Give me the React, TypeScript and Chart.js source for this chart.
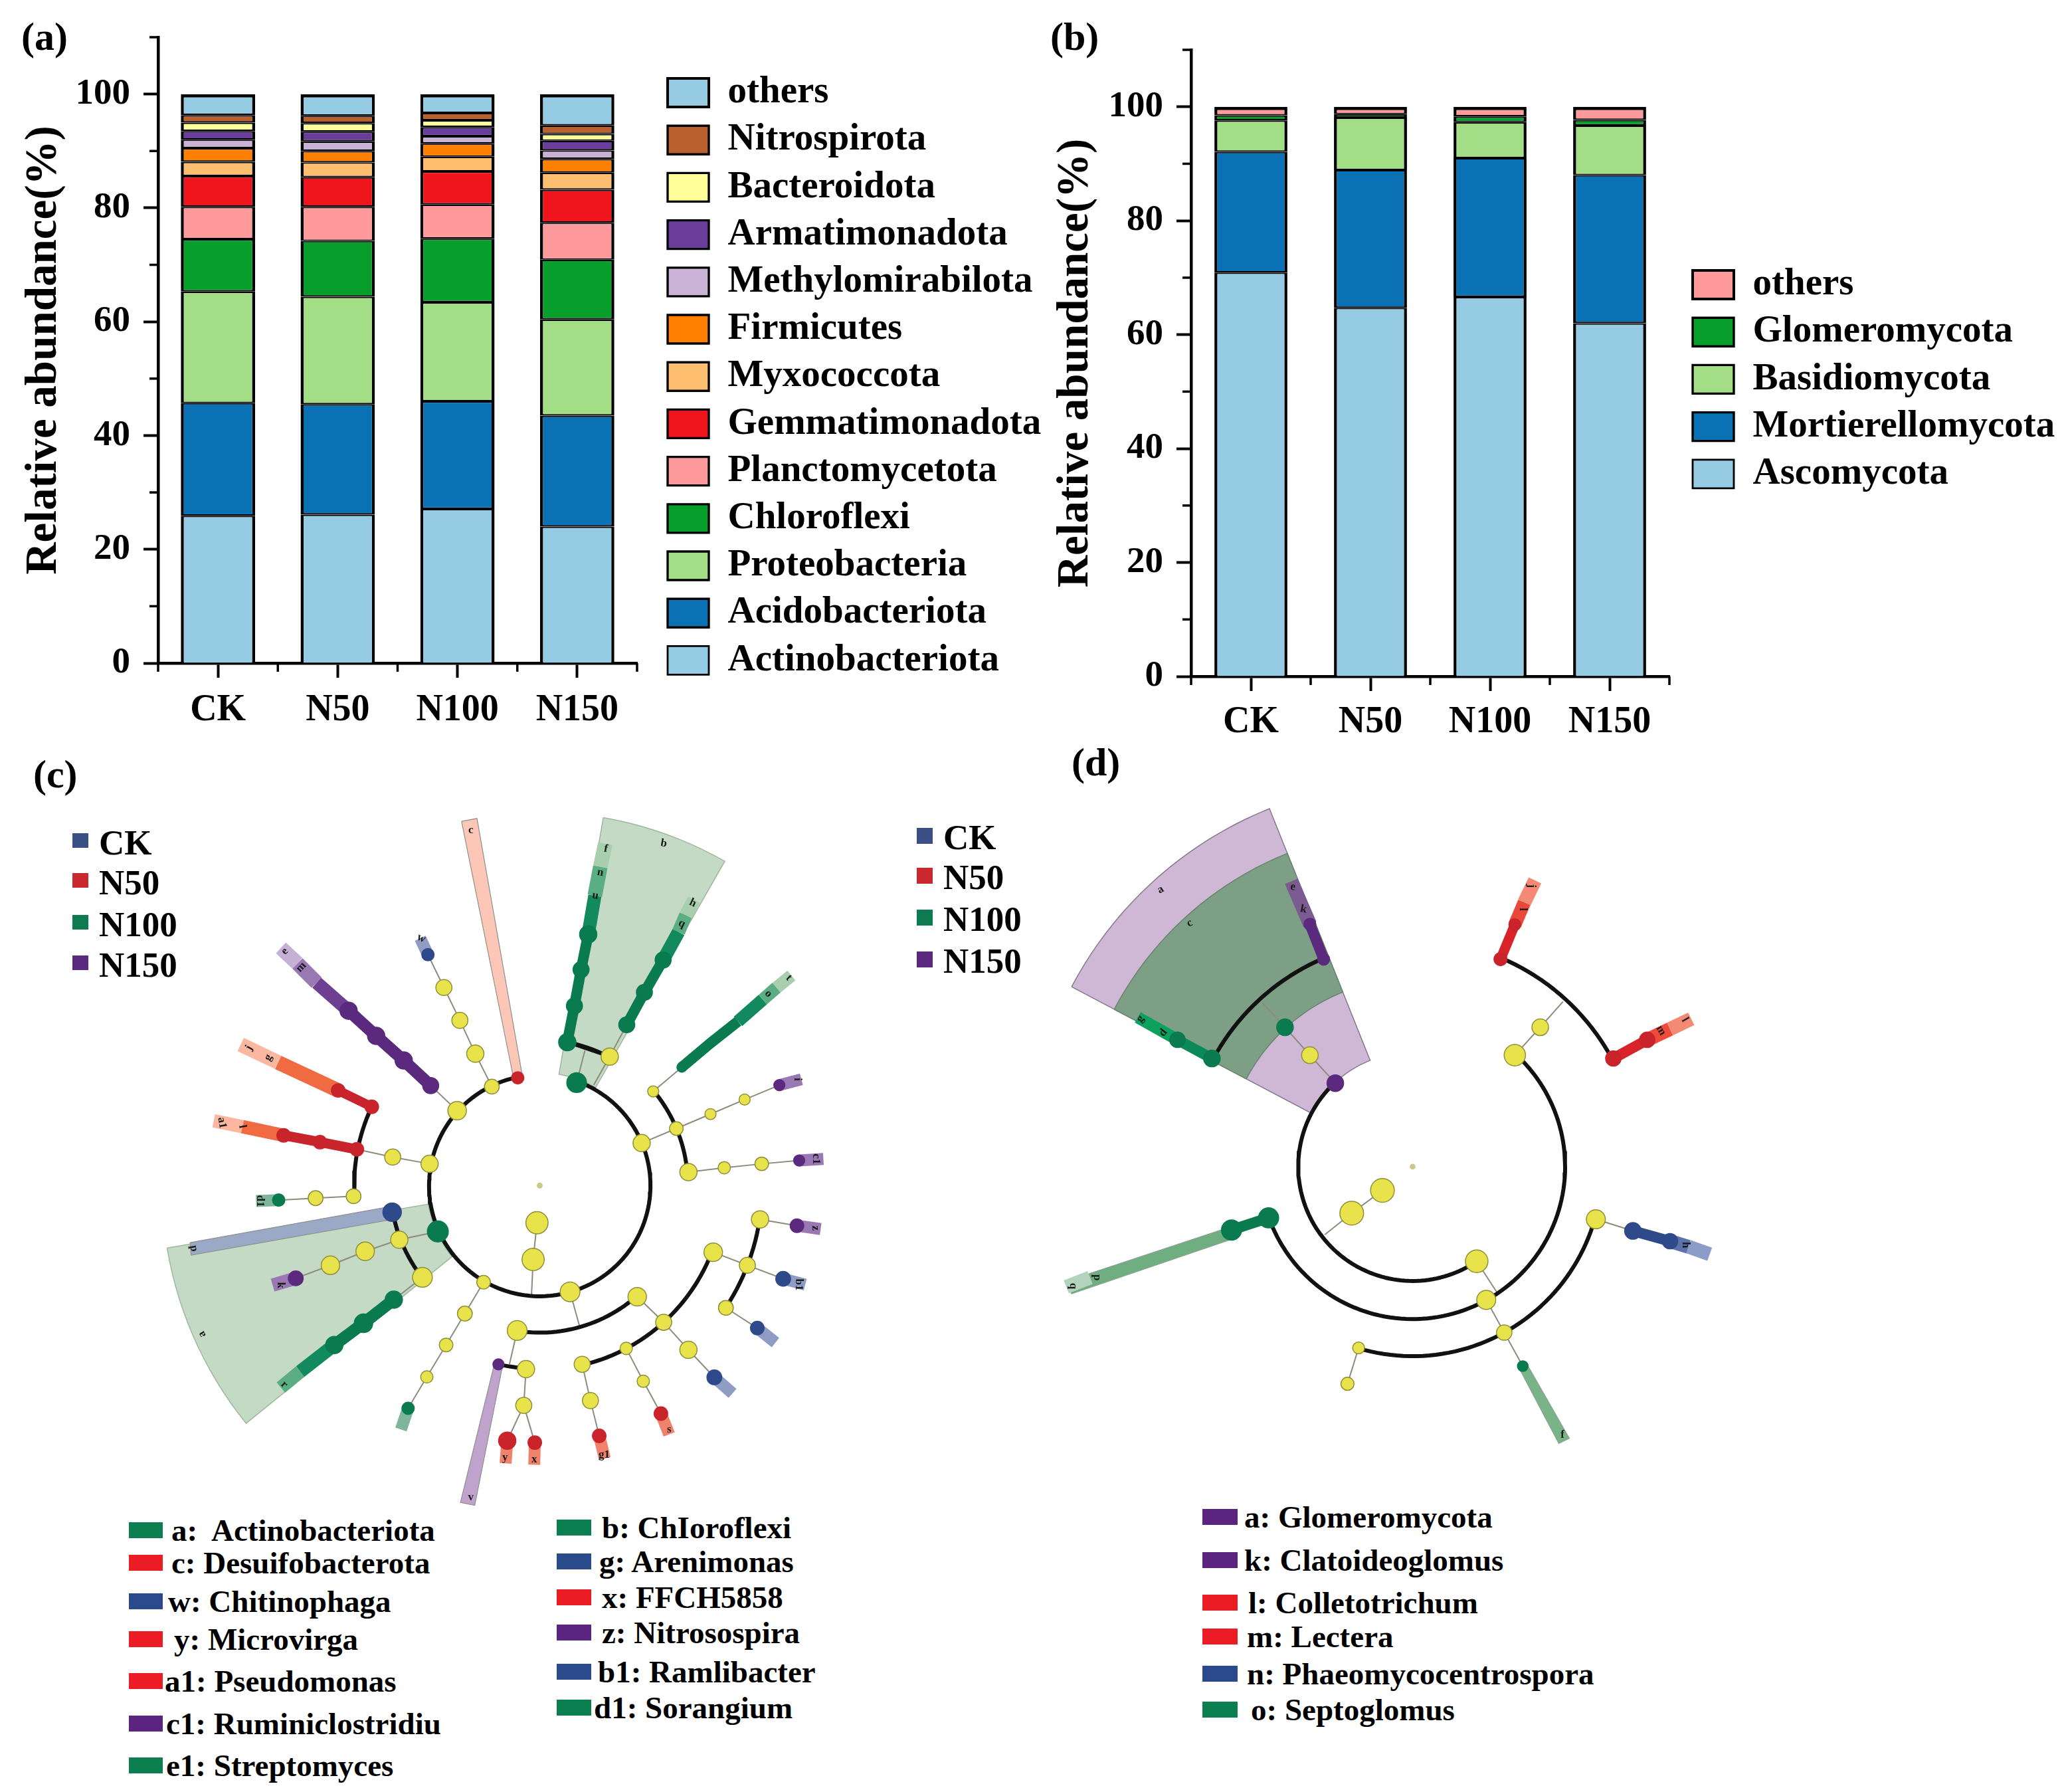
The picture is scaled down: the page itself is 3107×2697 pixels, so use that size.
import React, { useEffect, useRef } from "react";
import { Chart, registerables } from "chart.js";

Chart.register(...registerables);

const SERIF = "'Liberation Serif', 'Times New Roman', serif";

// ---------- panel (a) / (b) data ----------
const groups = ["CK", "N50", "N100", "N150"];
const yMinorTicks = [10, 30, 50, 70, 90, 110];
const xMinorTicks = [-0.5, 0.5, 1.5, 2.5, 3.5];

const actinobacteriota = [25.9, 26.1, 27.1, 24.0];
const acidobacteriota = [19.8, 19.4, 18.9, 19.5];
const proteobacteria = [19.6, 18.9, 17.4, 16.9];
const chloroflexi = [9.2, 9.8, 11.2, 10.5];
const planctomycetota = [5.7, 6.0, 6.0, 6.5];
const gemmatimonadota = [5.4, 5.2, 5.8, 5.8];
const myxococcota = [2.5, 2.6, 2.6, 3.0];
const firmicutes = [2.4, 2.0, 2.3, 2.4];
const methylomirabilota = [1.5, 1.7, 1.3, 1.5];
const armatimonadota = [1.5, 1.7, 1.6, 1.7];
const bacteroidota = [1.5, 1.5, 1.2, 1.2];
const nitrospirota = [1.3, 1.3, 1.3, 1.5];
const othersA = [3.7, 3.8, 3.3, 5.5];

const ascomycota = [70.9, 64.7, 66.6, 62.0];
const mortierellomycota = [21.2, 24.2, 24.4, 26.0];
const basidiomycota = [5.5, 9.2, 6.3, 8.7];
const glomeromycota = [0.9, 0.6, 1.0, 1.0];
const othersB = [1.5, 1.3, 1.7, 2.3];

const seriesA: [string, number[], string][] = [
  ["Actinobacteriota", actinobacteriota, "#95CCE4"],
  ["Acidobacteriota", acidobacteriota, "#0A72B4"],
  ["Proteobacteria", proteobacteria, "#A3DD85"],
  ["Chloroflexi", chloroflexi, "#089E2C"],
  ["Planctomycetota", planctomycetota, "#FF9A9C"],
  ["Gemmatimonadota", gemmatimonadota, "#F0141C"],
  ["Myxococcota", myxococcota, "#FDBF6F"],
  ["Firmicutes", firmicutes, "#FF7F00"],
  ["Methylomirabilota", methylomirabilota, "#CAB2D6"],
  ["Armatimonadota", armatimonadota, "#6A3D9A"],
  ["Bacteroidota", bacteroidota, "#FFFF99"],
  ["Nitrospirota", nitrospirota, "#B9602E"],
  ["others", othersA, "#95CCE4"],
];
const seriesB: [string, number[], string][] = [
  ["Ascomycota", ascomycota, "#95CCE4"],
  ["Mortierellomycota", mortierellomycota, "#0A72B4"],
  ["Basidiomycota", basidiomycota, "#A3DD85"],
  ["Glomeromycota", glomeromycota, "#089E2C"],
  ["others", othersB, "#FF9A9C"],
];

// ---------- cladogram colours ----------
const YEL = "#E9E34B";
const GRN = "#0A7A4F";
const RED = "#C9242B";
const PUR = "#5B2A7E";
const BLU = "#2F4A8A";
const GRN2 = "#12895E";
const GRN3 = "#5BAE83";
const GRN4 = "#A7CFAE";
const PUR2 = "#6E3F91";
const PUR3 = "#9A78B3";
const PUR4 = "#C6B0D6";
const ORG = "#F06A42";
const ORG2 = "#FBB79F";
const BLU2 = "#8F9DC4";
const GLINE = "#8C8C7C";

type Pt = [number, number];
type Node = [number, number, number];
type Stroke = [Pt[], string, number];

// ---------- cladogram (c) ----------
const nodesYellowC: Node[] = [
  [975, 977, 18], [968, 1053, 18], [1035, 1120, 16], [939, 1200, 16], [878, 1100, 11], [844, 1165, 12],
  [810, 1230, 11], [775, 1296, 10], [955, 1280, 14], [951, 1355, 13], [1057, 1270, 13], [1072, 1345, 13],
  [1157, 1130, 15], [1205, 1183, 13], [1250, 1240, 14], [1137, 1237, 10], [1168, 1305, 10], [1295, 1038, 15],
  [1357, 1065, 13], [1318, 1153, 12], [1380, 970, 14], [1250, 872, 14], [1315, 863, 10], [1383, 855, 11],
  [1165, 812, 14], [1228, 782, 11], [1290, 752, 9], [1352, 722, 9], [1186, 705, 9], [1107, 633, 14],
  [893, 695, 12], [863, 627, 14], [835, 558, 13], [806, 490, 13], [830, 745, 15], [780, 855, 14],
  [713, 841, 13], [642, 922, 12], [573, 926, 12], [725, 1012, 14], [663, 1036, 15], [600, 1065, 15], [767, 1090, 16],
];
const nodesGreenC: Node[] = [
  [1047, 687, 16], [1030, 603, 14], [1043, 528, 13], [1055, 453, 13], [1068, 380, 14], [1138, 567, 13],
  [1170, 500, 13], [1204, 433, 13], [1238, 655, 8], [795, 995, 17], [715, 1136, 14], [660, 1185, 15],
  [607, 1230, 14], [506, 930, 10], [741, 1361, 10],
];
const nodesRedC: Node[] = [
  [940, 677, 10], [675, 737, 11], [614, 703, 11], [648, 825, 11], [581, 810, 11], [515, 796, 11],
  [921, 1428, 14], [971, 1432, 11], [1088, 1418, 11], [1200, 1372, 11],
];
const nodesPurpleC: Node[] = [
  [782, 693, 13], [733, 641, 14], [683, 590, 14], [633, 538, 14], [537, 1092, 12], [905, 1270, 9],
  [1415, 692, 9], [1451, 848, 9], [1447, 983, 11],
];
const nodesBlueC: Node[] = [[777, 422, 10], [712, 955, 15], [1422, 1093, 12], [1375, 1195, 11], [1297, 1297, 12]];
const nodesRootC: Node[] = [[980, 900, 4]];

// sectors: r0, r1, a0, a1 (degrees)
const sectorsC: [number, number, number, number][] = [
  [205, 678, -80.2, -60.3],
  [205, 686, 170.5, 141],
];
// arcs: radius, from, to (degrees)
const arcsC: [number, number, number][] = [
  [201, -70, 258.5], [267, 98.9, 48.8], [335, 76.7, 21], [404, 33.3, 8.7], [333, 102.9, 94.3],
  [269, -39.7, -5.3], [265, -79.1, -61.5], [337, 205.1, 176.8], [271, 169.8, 141.9],
];
const branchesC: Pt[][] = [
  [[965, 1128], [968, 1053], [975, 977]],
  [[878, 1100], [844, 1165], [810, 1230], [775, 1296], [741, 1361]],
  [[1035, 1120], [1052, 1190]],
  [[939, 1200], [925, 1270]],
  [[955, 1280], [951, 1355], [921, 1428]],
  [[951, 1355], [971, 1432]],
  [[1157, 1130], [1205, 1183], [1250, 1240], [1297, 1297]],
  [[1137, 1237], [1168, 1305], [1200, 1372]],
  [[1057, 1270], [1072, 1345], [1088, 1418]],
  [[1295, 1038], [1357, 1065], [1422, 1093]],
  [[1380, 970], [1447, 983]],
  [[1318, 1153], [1375, 1195]],
  [[1250, 872], [1315, 863], [1383, 855], [1451, 848]],
  [[1165, 812], [1228, 782], [1290, 752], [1352, 722], [1415, 692]],
  [[1186, 705], [1238, 655]],
  [[1047, 687], [1062, 620]],
  [[1078, 692], [1107, 633], [1138, 567]],
  [[893, 695], [863, 627], [835, 558], [806, 490], [777, 422]],
  [[830, 745], [782, 693]],
  [[780, 855], [713, 841], [648, 825]],
  [[642, 922], [573, 926], [506, 930]],
  [[795, 995], [725, 1012], [663, 1036], [600, 1065], [537, 1092]],
  [[767, 1090], [715, 1136]],
];
const polysC: [Pt[], string][] = [
  [[[838, 146], [866, 140], [948, 670], [932, 675]], "#FCC7B6"],
  [[[345, 1018], [347, 1044], [712, 970], [700, 945]], "#9AA9C5"],
  [[[897, 1272], [912, 1276], [862, 1562], [836, 1556]], "#BFA3CC"],
];
const strokesC: Stroke[] = [
  [[[614, 703], [505, 645]], ORG, 22],
  [[[505, 645], [437, 608]], ORG2, 22],
  [[[515, 796], [440, 778]], ORG, 20],
  [[[440, 778], [388, 766]], ORG2, 20],
  [[[1068, 380], [1080, 300]], GRN2, 20],
  [[[1080, 300], [1090, 240]], GRN3, 22],
  [[[1090, 240], [1099, 192]], GRN4, 22],
  [[[1204, 433], [1232, 375]], GRN2, 20],
  [[[1232, 375], [1245, 340]], GRN3, 20],
  [[[1245, 340], [1260, 308]], GRN4, 20],
  [[[1340, 560], [1385, 515]], GRN2, 19],
  [[[1385, 515], [1410, 490]], GRN3, 19],
  [[[1410, 490], [1437, 465]], GRN4, 19],
  [[[633, 538], [575, 480]], PUR2, 20],
  [[[575, 480], [540, 440]], PUR3, 22],
  [[[540, 440], [510, 408]], PUR4, 22],
  [[[607, 1230], [545, 1285]], GRN2, 20],
  [[[545, 1285], [510, 1318]], GRN3, 20],
  [[[777, 422], [763, 388]], BLU2, 18],
  [[[1415, 692], [1455, 680]], PUR3, 18],
  [[[1451, 848], [1495, 845]], PUR3, 18],
  [[[1447, 983], [1490, 990]], PUR3, 18],
  [[[537, 1092], [495, 1106]], PUR3, 20],
  [[[1422, 1093], [1462, 1105]], BLU2, 18],
  [[[1375, 1195], [1408, 1225]], BLU2, 18],
  [[[1297, 1297], [1330, 1330]], BLU2, 18],
  [[[921, 1428], [918, 1475]], "#F0826C", 18],
  [[[971, 1432], [970, 1478]], "#F0826C", 18],
  [[[1088, 1418], [1098, 1465]], "#F0826C", 18],
  [[[1200, 1372], [1215, 1415]], "#F0826C", 18],
  [[[506, 930], [465, 932]], "#7FB59B", 18],
  [[[741, 1361], [728, 1405]], "#7FB59B", 18],
];
const thickC: Stroke[] = [
  [[[675, 737], [614, 703]], RED, 14],
  [[[648, 825], [581, 810], [515, 796]], RED, 15],
  [[[1030, 603], [1043, 528], [1055, 453], [1068, 380]], GRN, 16],
  [[[1138, 567], [1170, 500], [1204, 433]], GRN, 16],
  [[[1238, 655], [1290, 605], [1340, 560]], GRN, 16],
  [[[782, 693], [733, 641], [683, 590], [633, 538]], PUR, 18],
  [[[715, 1136], [660, 1185], [607, 1230]], GRN, 18],
  [[[1030, 603], [1107, 633]], "#111", 5],
  [[[712, 955], [725, 1012]], "#111", 5],
];
const tinyC: [string, number, number, number][] = [
  ["c", 855, 165, 0], ["b", 1205, 192, 10], ["a", 367, 1208, -120], ["f", 1100, 203, 10], ["n", 1090, 252, 10],
  ["u", 1081, 300, 10], ["h", 1258, 315, 25], ["q", 1238, 358, 25], ["t", 1432, 470, 45], ["o", 1395, 503, 45],
  ["e", 517, 415, -45], ["m", 547, 448, -45], ["j", 452, 615, -60], ["g", 487, 635, -60], ["a1", 403, 770, 80],
  ["l", 440, 778, 80], ["p", 352, 1030, 80], ["w", 765, 388, 25], ["d1", 472, 932, 90], ["v", 855, 1545, 0],
  ["y", 917, 1463, 0], ["x", 970, 1467, 0], ["g1", 1097, 1458, 0], ["s", 1215, 1405, 0], ["b1", 1450, 1105, 90],
  ["z", 1480, 988, 90], ["c1", 1482, 845, 90], ["i", 1448, 680, 90], ["k", 510, 1106, 90], ["r", 516, 1312, 45],
];

// ---------- cladogram (d) ----------
const nodesYellowD: Node[] = [
  [917, 943, 20], [859, 992, 20], [1095, 1095, 19], [1113, 1178, 16], [1147, 1248, 13], [872, 1281, 10],
  [851, 1358, 11], [780, 653, 14], [1167, 653, 18], [1215, 593, 14], [1320, 1005, 16],
];
const nodesGreenD: Node[] = [
  [733, 593, 14], [595, 660, 14], [530, 620, 13], [702, 1002, 17], [632, 1028, 17], [1182, 1320, 9],
];
const nodesPurpleD: Node[] = [[828, 713, 14], [806, 447, 10], [780, 372, 10]];
const nodesRedD: Node[] = [[1140, 447, 11], [1167, 373, 10], [1353, 660, 13], [1417, 620, 13]];
const nodesBlueD: Node[] = [[1390, 1030, 14], [1460, 1052, 13]];
const nodesRootD: Node[] = [[974, 892, 4]];

const sectorsOuterD: [number, number, number, number][] = [[216, 728, 207.8, 248.2]];
const sectorsInnerD: [number, number, number, number][] = [[355, 637, 207.8, 248.2]];
const arcsD: [number, number, number][] = [
  [216, 227.2, 56], [288, -47.4, 160.4], [358, 16, 106.6], [428, 208.3, 246.8], [428, -67, -28.3],
];
const branchesD: Pt[][] = [
  [[690, 540], [733, 593], [780, 653], [828, 713]],
  [[1095, 1095], [1135, 1165]],
  [[1113, 1178], [1147, 1248], [1182, 1320]],
  [[1167, 653], [1215, 593], [1258, 538]],
  [[808, 1038], [859, 992], [917, 943]],
  [[872, 1281], [851, 1358]],
  [[1320, 1005], [1390, 1030]],
];
const polysD: [Pt[], string][] = [
  [[[620, 1025], [640, 1045], [330, 1165], [320, 1138]], "#6FAE80"],
  [[[1174, 1322], [1190, 1316], [1270, 1475], [1250, 1486]], "#79B488"],
];
const strokesD: Stroke[] = [
  [[[530, 620], [455, 572]], "#0BA15F", 18],
  [[[780, 372], [745, 280]], "#7B5B92", 21],
  [[[1167, 373], [1185, 325]], "#E9483A", 20],
  [[[1185, 325], [1205, 278]], "#F58A74", 21],
  [[[1417, 620], [1460, 597]], "#EF4A3A", 21],
  [[[1460, 597], [1500, 575]], "#F58A74", 21],
  [[[1460, 1052], [1495, 1064]], "#5D72AB", 21],
  [[[1495, 1064], [1535, 1080]], "#8C9CC8", 21],
  [[[365, 1130], [320, 1150]], "#B4D3BC", 21],
];
const thickD: Stroke[] = [
  [[[595, 660], [530, 620]], "#0A8A58", 16],
  [[[806, 447], [780, 372]], PUR, 16],
  [[[1140, 447], [1167, 373]], "#D8232A", 15],
  [[[1353, 660], [1417, 620]], "#D8232A", 16],
  [[[1390, 1030], [1460, 1052]], BLU, 16],
  [[[702, 1002], [632, 1028]], GRN, 16],
];
const tinyD: [string, number, number, number][] = [
  ["a", 498, 298, -30], ["c", 553, 370, -30], ["e", 748, 292, 10], ["k", 768, 340, 10], ["g", 460, 575, -50],
  ["d", 503, 605, -50], ["j", 1198, 290, 90], ["l", 1182, 340, 90], ["l", 1488, 577, 60], ["m", 1443, 600, 60],
  ["h", 1490, 1060, 90], ["p", 378, 1130, 90], ["q", 333, 1148, 90], ["f", 1257, 1467, 0],
];

// ---------- legends as text ----------
const treatments = ["CK", "N50", "N100", "N150"];
const treatmentColors = ["#3A4F86", "#C8282E", "#0D7A50", "#5B2A7E"];
const legendCLeft: [string, string][] = [
  ["a:  Actinobacteriota", "#0B7F50"], ["c: Desuifobacterota", "#EC1C24"], ["w: Chitinophaga", "#2B4A8B"],
  ["y: Microvirga", "#EC1C24"], ["a1: Pseudomonas", "#EC1C24"], ["c1: Ruminiclostridiu", "#5B2480"],
  ["e1: Streptomyces", "#0B7F50"],
];
const legendCRight: [string, string][] = [
  ["b: ChIoroflexi", "#0B7F50"], ["g: Arenimonas", "#2B4A8B"], ["x: FFCH5858", "#EC1C24"],
  ["z: Nitrosospira", "#5B2480"], ["b1: Ramlibacter", "#2B4A8B"], ["d1: Sorangium", "#0B7F50"],
];
const legendD: [string, string][] = [
  ["a: Glomeromycota", "#5B2480"], ["k: Clatoideoglomus", "#5B2480"], ["l: Colletotrichum", "#EC1C24"],
  ["m: Lectera", "#EC1C24"], ["n: Phaeomycocentrospora", "#2B4A8B"], ["o: Septoglomus", "#0B7F50"],
];

// layout of text blocks (page pixels)
const rowsCLeft = [2303, 2352, 2410, 2467, 2530, 2594, 2657];
const textXCLeft = [258, 258, 253, 262, 248, 250, 250];
const rowsCRight = [2299, 2350, 2404, 2457, 2516, 2570];
const textXCRight = [906, 902, 906, 906, 900, 894];
const rowsD = [2283, 2348, 2412, 2463, 2519, 2573];
const textXD = [1873, 1873, 1879, 1877, 1877, 1883];

// ---------- helpers ----------
function arcPts(cx: number, cy: number, k: number, r: number, a0: number, a1: number): Pt[] {
  const n = Math.max(2, Math.ceil(Math.abs(a1 - a0) / 2));
  const out: Pt[] = [];
  for (let i = 0; i <= n; i++) {
    const a = ((a0 + ((a1 - a0) * i) / n) * Math.PI) / 180;
    out.push([cx + r * Math.cos(a), cy + r * k * Math.sin(a)]);
  }
  return out;
}
function sectorPts(cx: number, cy: number, k: number, s: [number, number, number, number]): Pt[] {
  const outer = arcPts(cx, cy, k, s[1], s[2], s[3]);
  const inner = arcPts(cx, cy, k, s[0], s[3], s[2]);
  const all = [...outer, ...inner];
  all.push(all[0]);
  return all;
}
const toXY = (p: Pt[]) => p.map(([x, y]) => ({ x, y }));

function lineDs(pts: Pt[], color: string, width: number) {
  return {
    data: toXY(pts), showLine: true, borderColor: color, borderWidth: width, pointRadius: 0,
    fill: false, tension: 0, borderCapStyle: "butt", borderJoinStyle: "round",
  };
}
function shapeDs(pts: Pt[], color: string, edge: string, width = 1.5) {
  return {
    data: toXY(pts), showLine: true, borderColor: edge, borderWidth: width, pointRadius: 0,
    fill: "shape", backgroundColor: color, tension: 0,
  };
}
function nodesDs(nodes: Node[], color: string, hs: number) {
  return {
    data: nodes.map(([x, y]) => ({ x, y })), showLine: false,
    pointRadius: nodes.map((n) => (n[2] * 1.12) / hs), pointBackgroundColor: color,
    pointBorderColor: color === YEL ? "#8F8F3A" : color, pointBorderWidth: 1.5,
  };
}

const tinyLabelPlugin = {
  id: "tinyLabels",
  afterDatasetsDraw(chart: any, _a: any, opts: any) {
    const { ctx, scales } = chart;
    ctx.save();
    ctx.fillStyle = "#1a1a1a";
    ctx.font = `bold 17px ${SERIF}`;
    ctx.textAlign = "center";
    ctx.textBaseline = "middle";
    for (const [t, x, y, rot] of opts.items || []) {
      ctx.save();
      ctx.translate(scales.x.getPixelForValue(x), scales.y.getPixelForValue(y));
      ctx.rotate((rot * Math.PI) / 180);
      ctx.fillText(t, 0, 0);
      ctx.restore();
    }
    ctx.restore();
  },
};

const minorTickPlugin = {
  id: "minorTicks",
  afterDraw(chart: any) {
    const { ctx, scales } = chart;
    ctx.save();
    ctx.strokeStyle = "#000";
    ctx.lineWidth = 3.5;
    const x0 = scales.x.left, y0 = scales.y.bottom;
    for (const v of yMinorTicks) {
      const y = scales.y.getPixelForValue(v);
      ctx.beginPath(); ctx.moveTo(x0, y); ctx.lineTo(x0 - 13, y); ctx.stroke();
    }
    for (const v of xMinorTicks) {
      const x = scales.x.getPixelForValue(v);
      ctx.beginPath(); ctx.moveTo(x, y0); ctx.lineTo(x, y0 + 13); ctx.stroke();
    }
    ctx.restore();
  },
};

const legendPlacePlugin = {
  id: "legendPlace",
  afterLayout(chart: any, _a: any, opts: any) {
    const lg = chart.legend;
    const pad = lg.options.labels.padding;
    lg.maxHeight = 3000;
    lg.maxWidth = 3000;
    lg.fit();
    lg.left = opts.x - pad;
    lg.top = opts.y - pad;
    lg.right = chart.width;
    lg.bottom = chart.height;
    lg.width = lg.right - lg.left;
    lg.height = lg.bottom - lg.top;
  },
};

function StackedBar(props: {
  series: [string, number[], string][]; box: number[]; axisLeft: number; axisRight: number;
  axisTop: number; axisBottom: number; barPct: number; legendX: number; legendY: number; titleTop: number; xPad: number;
}) {
  const ref = useRef<HTMLCanvasElement>(null);
  const { series, box, axisLeft, axisRight, axisTop, axisBottom, barPct, legendX, legendY, titleTop, xPad } = props;
  useEffect(() => {
    const n = series.length;
    const chart = new Chart(ref.current as any, {
      type: "bar",
      data: {
        labels: groups,
        datasets: series.map(([label, data, color], i) => ({
          label, data, backgroundColor: color, borderColor: "#000",
          borderWidth: { left: 4.5, right: 4.5, top: i === n - 1 ? 5 : 2.2, bottom: i === 0 ? 0 : 2.2 },
          borderSkipped: false,
          barPercentage: barPct, categoryPercentage: 1,
        })),
      },
      plugins: [minorTickPlugin, legendPlacePlugin],
      options: {
        animation: false, responsive: false, devicePixelRatio: 1,
        layout: { autoPadding: false, padding: { left: 0, top: axisTop, right: box[2] - axisRight, bottom: 0 } },
        plugins: {
          tooltip: { enabled: false },
          legendPlace: { x: legendX, y: legendY },
          legend: {
            position: "chartArea", align: "start", reverse: true,
            labels: {
              boxWidth: 62, boxHeight: 43, padding: 14.2, color: "#000",
              font: { family: SERIF, weight: "bold", size: 57, lineHeight: 1 },
            },
          },
        } as any,
        scales: {
          x: {
            stacked: true,
            afterFit: (s: any) => { s.height = box[3] - axisBottom; },
            border: { color: "#000", width: 4.5 },
            grid: { drawOnChartArea: false, offset: false, tickLength: 22, tickWidth: 4, tickColor: "#000" },
            ticks: { color: "#000", padding: xPad, maxRotation: 0, font: { family: SERIF, weight: "bold", size: 56, lineHeight: 1 } },
          },
          y: {
            stacked: true, min: 0, max: 110,
            afterFit: (s: any) => { s.width = axisLeft; },
            border: { color: "#000", width: 4.5 },
            grid: { drawOnChartArea: false, tickLength: 22, tickWidth: 4, tickColor: "#000" },
            ticks: { color: "#000", padding: 20, stepSize: 20, includeBounds: false, font: { family: SERIF, weight: "bold", size: 55, lineHeight: 1 } },
            title: {
              display: true, text: "Relative abundance(%)", color: "#000",
              padding: { top: titleTop, bottom: 0 },
              font: { family: SERIF, weight: "bold", size: 67, lineHeight: 1 },
            },
          },
        },
      } as any,
    });
    return () => chart.destroy();
  }, []);
  return (
    <canvas ref={ref} width={box[2]} height={box[3]}
      style={{ position: "absolute", left: box[0], top: box[1], width: box[2], height: box[3] }} />
  );
}

function Cladogram(props: { box: number[]; hs: number; datasets: any[]; tiny: any[] }) {
  const ref = useRef<HTMLCanvasElement>(null);
  const { box, datasets, tiny } = props;
  useEffect(() => {
    const chart = new Chart(ref.current as any, {
      type: "scatter",
      data: { datasets: datasets.map((d, i) => ({ ...d, order: -i, clip: false })) },
      plugins: [tinyLabelPlugin],
      options: {
        animation: false, responsive: false, devicePixelRatio: 1,
        layout: { autoPadding: false, padding: 0 },
        plugins: { legend: { display: false }, tooltip: { enabled: false }, tinyLabels: { items: tiny } } as any,
        scales: {
          x: { type: "linear", min: 0, max: 1568, display: false },
          y: { type: "linear", min: 0, max: 1568, reverse: true, display: false },
        },
      } as any,
    });
    return () => chart.destroy();
  }, []);
  return (
    <canvas ref={ref} width={box[2]} height={box[3]}
      style={{ position: "absolute", left: box[0], top: box[1], width: box[2], height: box[3] }} />
  );
}

const textStyle = (x: number, y: number, size: number): React.CSSProperties => ({
  position: "absolute", left: x, top: y, transform: "translateY(-50%)", fontFamily: SERIF, fontWeight: 700,
  fontSize: size, lineHeight: 1, whiteSpace: "pre", color: "#000",
});
const swatch = (x: number, y: number, w: number, h: number, c: string): React.CSSProperties => ({
  position: "absolute", left: x, top: y - h / 2, width: w, height: h, background: c,
});

function buildC() {
  const cx = 980, cy = 900, k = 1.14, hs = 1.206;
  return [
    ...sectorsC.map((s) => shapeDs(sectorPts(cx, cy, k, s), "#C4DAC5", "#9DB89F")),
    ...polysC.map(([p, c]) => shapeDs([...p, p[0]], c, "#8F8F8F", 1.2)),
    ...strokesC.map(([p, c, w]) => lineDs(p, c, w)),
    ...branchesC.map((p) => lineDs(p, GLINE, 2)),
    ...arcsC.map(([r, a0, a1]) => lineDs(arcPts(cx, cy, k, r, a0, a1), "#111", 6)),
    ...thickC.map(([p, c, w]) => lineDs(p, c, w)),
    nodesDs(nodesYellowC, YEL, hs), nodesDs(nodesGreenC, GRN, hs), nodesDs(nodesRedC, RED, hs),
    nodesDs(nodesPurpleC, PUR, hs), nodesDs(nodesBlueC, BLU, hs), nodesDs(nodesRootC, "#C9C98A", hs),
  ];
}
function buildD() {
  const cx = 974, cy = 892, k = 1.136, hs = 1.254;
  return [
    ...sectorsOuterD.map((s) => shapeDs(sectorPts(cx, cy, k, s), "#CFB8D6", "#857A8C")),
    ...sectorsInnerD.map((s) => shapeDs(sectorPts(cx, cy, k, s), "#7D9F85", "#66856E")),
    ...polysD.map(([p, c]) => shapeDs([...p, p[0]], c, "#8F9F92", 1.2)),
    ...strokesD.map(([p, c, w]) => lineDs(p, c, w)),
    ...branchesD.map((p) => lineDs(p, GLINE, 2)),
    ...arcsD.map(([r, a0, a1]) => lineDs(arcPts(cx, cy, k, r, a0, a1), "#111", 6)),
    ...thickD.map(([p, c, w]) => lineDs(p, c, w)),
    nodesDs(nodesYellowD, YEL, hs), nodesDs(nodesGreenD, GRN, hs), nodesDs(nodesRedD, RED, hs),
    nodesDs(nodesPurpleD, PUR, hs), nodesDs(nodesBlueD, BLU, hs), nodesDs(nodesRootD, "#C9C98A", hs),
  ];
}

export default function App() {
  useEffect(() => { document.body.style.margin = "0"; document.body.style.background = "#fff"; }, []);
  return (
    <div style={{ position: "absolute", left: 0, top: 0, width: 3107, height: 2697, overflow: "hidden", background: "#fff" }}>
      <StackedBar series={seriesA} box={[0, 0, 1600, 1130]} axisLeft={238} axisRight={959} axisTop={56} axisBottom={998}
        barPct={0.62} legendX={1005} legendY={111} titleTop={33} xPad={22} />
      <StackedBar series={seriesB} box={[1560, 0, 1547, 1130]} axisLeft={233} axisRight={953} axisTop={75} axisBottom={1018}
        barPct={0.61} legendX={988} legendY={400} titleTop={26} xPad={20} />
      <Cladogram box={[0, 1130, 1300, 1140]} hs={1.206} datasets={buildC()} tiny={tinyC} />
      <Cladogram box={[1350, 1130, 1250, 1100]} hs={1.254} datasets={buildD()} tiny={tinyD} />

      <div style={textStyle(32, 55, 60)}>(a)</div>
      <div style={textStyle(1581, 55, 60)}>(b)</div>
      <div style={textStyle(50, 1165, 60)}>(c)</div>
      <div style={textStyle(1613, 1147, 60)}>(d)</div>

      {treatments.map((t, i) => (
        <React.Fragment key={"c" + t}>
          <div style={swatch(109, [1265, 1325, 1388, 1449][i], 24, 22, treatmentColors[i])} />
          <div style={textStyle(149, [1268, 1328, 1391, 1452][i], 53)}>{t}</div>
        </React.Fragment>
      ))}
      {treatments.map((t, i) => (
        <React.Fragment key={"d" + t}>
          <div style={swatch(1380, [1258, 1318, 1381, 1444][i], 24, 24, treatmentColors[i])} />
          <div style={textStyle(1420, [1260, 1320, 1383, 1446][i], 53)}>{t}</div>
        </React.Fragment>
      ))}
      {legendCLeft.map(([t, c], i) => (
        <React.Fragment key={t}>
          <div style={swatch(194, rowsCLeft[i], 51, 24, c)} />
          <div style={textStyle(textXCLeft[i], rowsCLeft[i], 47)}>{t}</div>
        </React.Fragment>
      ))}
      {legendCRight.map(([t, c], i) => (
        <React.Fragment key={t}>
          <div style={swatch(838, rowsCRight[i], 52, 24, c)} />
          <div style={textStyle(textXCRight[i], rowsCRight[i], 47)}>{t}</div>
        </React.Fragment>
      ))}
      {legendD.map(([t, c], i) => (
        <React.Fragment key={t}>
          <div style={swatch(1810, rowsD[i], 53, 24, c)} />
          <div style={textStyle(textXD[i], rowsD[i], 47)}>{t}</div>
        </React.Fragment>
      ))}
    </div>
  );
}
